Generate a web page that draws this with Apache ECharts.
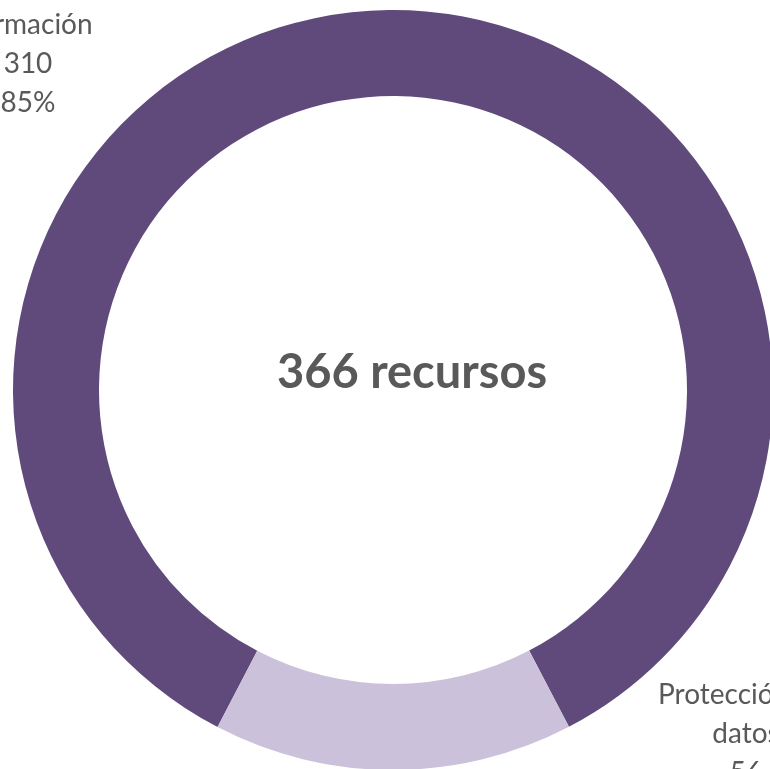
<!DOCTYPE html>
<html>
<head>
<meta charset="utf-8">
<title>recursos</title>
<script src="https://cdn.jsdelivr.net/npm/echarts@6/dist/echarts.min.js"></script>
<style>
  html, body { margin: 0; padding: 0; background: #fff; }
  #main { width: 770px; height: 769px; }
</style>
</head>
<body>
<div id="main"></div>
<script>
// datos del grafico
var categorias = ['Formación', 'Protección de datos'];
var valores = [310, 56];
var colores = ['#604A7B', '#CCC1DA'];

// posicion de las etiquetas (fuera del anillo, como en el original)
var etiquetaPos = [
  { x: 28, y: 64 },
  { x: 746, y: 753 }
];

var total = valores.reduce(function (a, b) { return a + b; }, 0);

var chart = echarts.init(document.getElementById('main'), null, {
  width: 770,
  height: 769
});

var datos = categorias.map(function (c, i) {
  return { name: c, value: valores[i], itemStyle: { color: colores[i] } };
});

var option = {
  animation: false,
  backgroundColor: '#fff',
  // texto central
  graphic: [{
    type: 'text',
    x: 412,
    y: 373,
    style: {
      text: total + ' recursos',
      font: 'bold 47px Lato',
      fill: '#595959',
      textAlign: 'center',
      textVerticalAlign: 'middle'
    }
  }],
  series: [{
    type: 'pie',
    center: [393, 390],
    radius: [294, 380],
    startAngle: 242.5,
    clockwise: true,
    percentPrecision: 0,
    avoidLabelOverlap: false,
    label: {
      show: true,
      position: 'outside',
      formatter: '{b}\n{c}\n{d}%',
      color: '#595959',
      fontFamily: 'Lato',
      fontSize: 28,
      lineHeight: 39,
      align: 'center',
      width: 210,
      overflow: 'break'
    },
    labelLine: { show: false },
    labelLayout: function (p) {
      var pos = etiquetaPos[p.dataIndex];
      return { x: pos.x, y: pos.y, align: 'center', verticalAlign: 'middle' };
    },
    emphasis: { disabled: true },
    data: datos
  }]
};
chart.setOption(option);
</script>
</body>
</html>
